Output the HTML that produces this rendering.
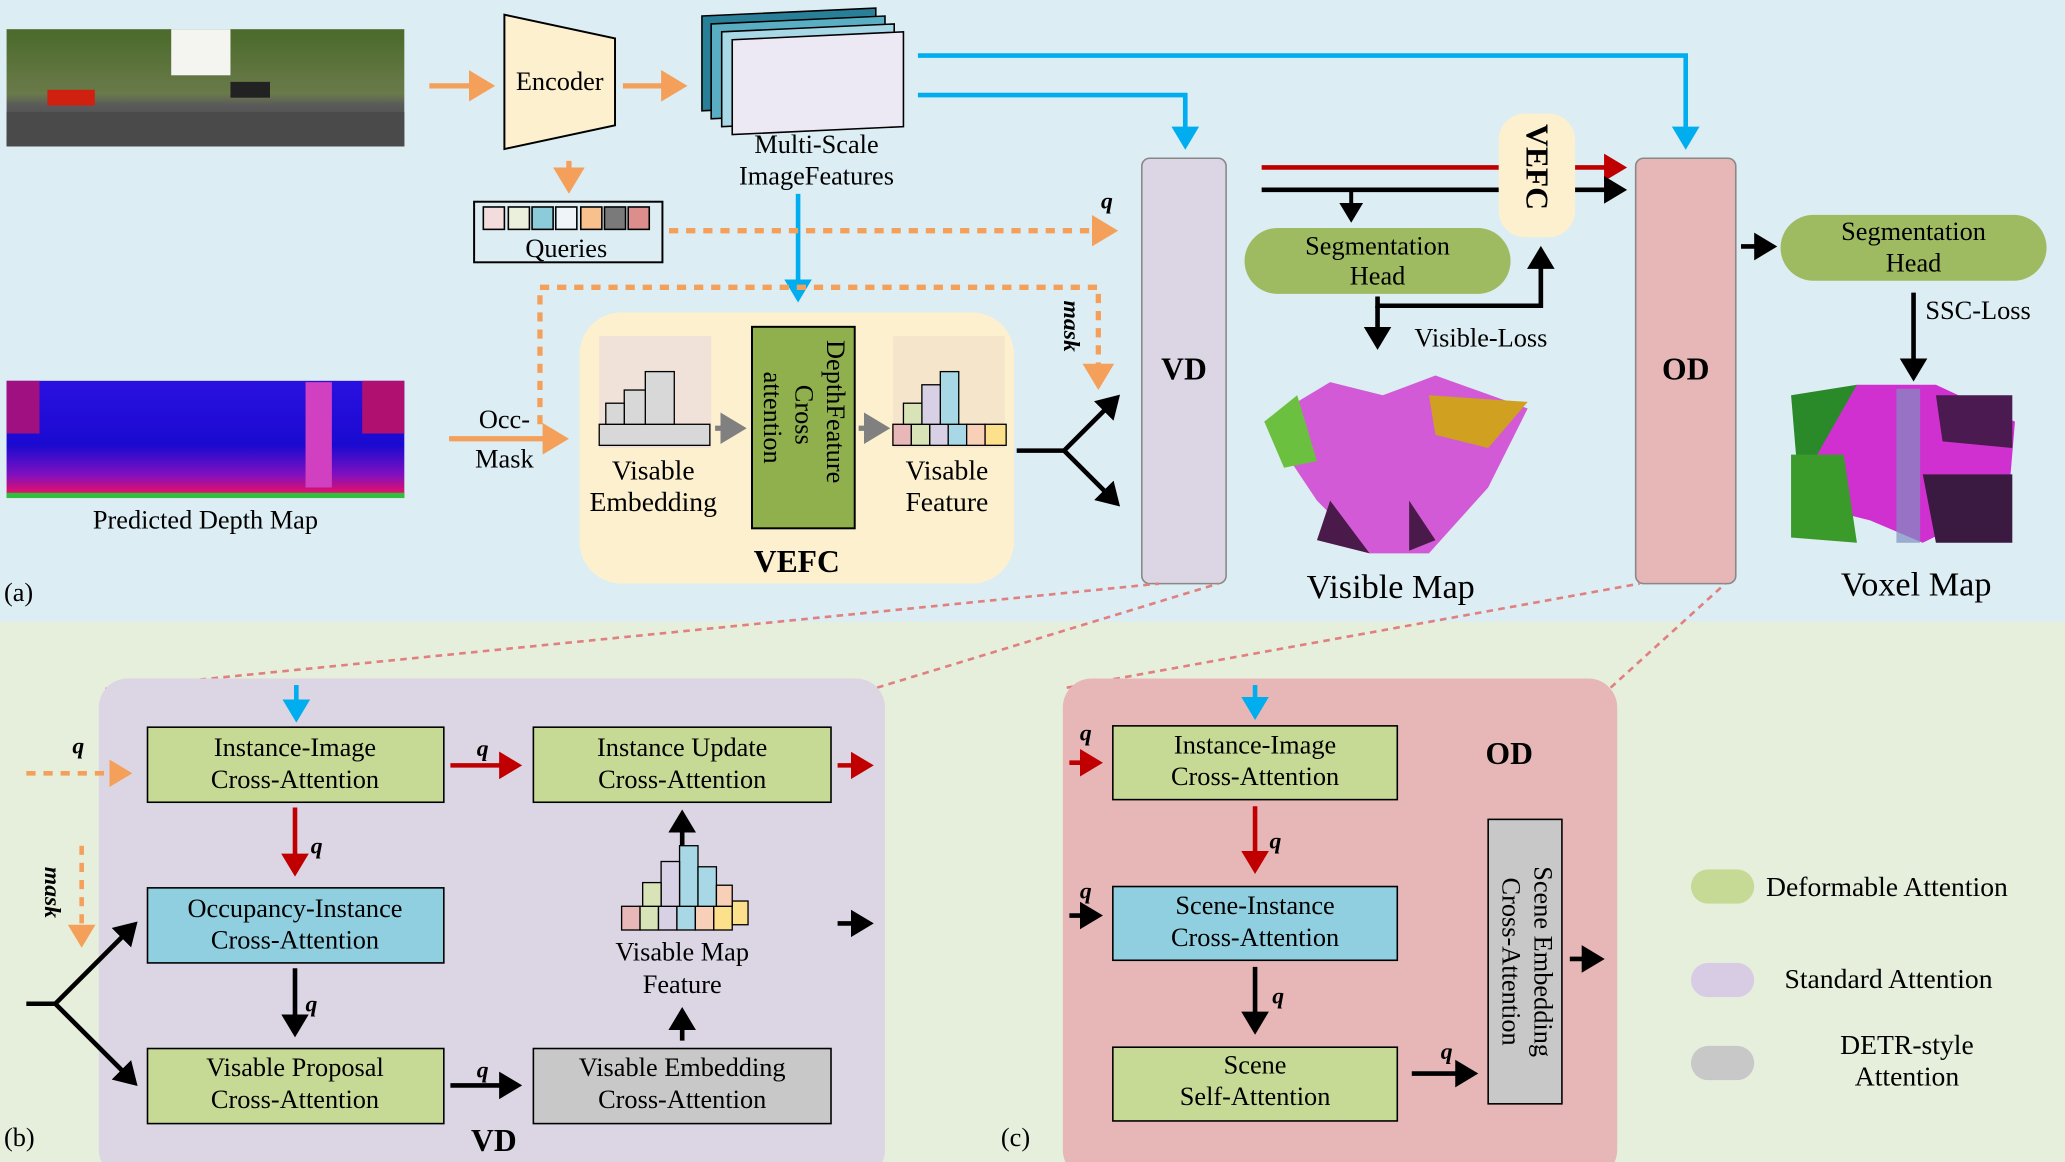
<!DOCTYPE html>
<html><head><meta charset="utf-8"><style>
html,body{margin:0;padding:0;width:2065px;height:1162px;overflow:hidden;background:#dcedf3}
svg{display:block;font-family:"Liberation Serif","DejaVu Serif","Noto Serif CJK SC",serif}
svg text{font-family:"Liberation Serif","DejaVu Serif","Noto Serif CJK SC",serif !important;fill:#000}
</style></head><body>
<svg width="2065" height="1162" viewBox="0 0 1568 882" xmlns="http://www.w3.org/2000/svg" font-family="Liberation Serif, DejaVu Serif, serif">
<defs>
<marker id="ao" markerWidth="6" markerHeight="6" refX="4" refY="3" orient="auto" markerUnits="strokeWidth"><path d="M0,0 L5,3 L0,6 z" fill="#f4a05a"/></marker>
<marker id="ab" markerWidth="6" markerHeight="6" refX="4" refY="3" orient="auto" markerUnits="strokeWidth"><path d="M0,0 L5,3 L0,6 z" fill="#00aeef"/></marker>
<marker id="ak" markerWidth="6" markerHeight="6" refX="4" refY="3" orient="auto" markerUnits="strokeWidth"><path d="M0,0 L5,3 L0,6 z" fill="#000"/></marker>
<marker id="ar" markerWidth="6" markerHeight="6" refX="4" refY="3" orient="auto" markerUnits="strokeWidth"><path d="M0,0 L5,3 L0,6 z" fill="#c00000"/></marker>
<marker id="ag" markerWidth="6" markerHeight="6" refX="4" refY="3" orient="auto" markerUnits="strokeWidth"><path d="M0,0 L5,3 L0,6 z" fill="#808080"/></marker>
<linearGradient id="dep" x1="0" y1="0" x2="0" y2="1"><stop offset="0" stop-color="#2a10e0"/><stop offset="0.55" stop-color="#1a0ad0"/><stop offset="0.8" stop-color="#8010c0"/><stop offset="1" stop-color="#ff1050"/></linearGradient>
<linearGradient id="rgb" x1="0" y1="0" x2="0" y2="1"><stop offset="0" stop-color="#4a6a2a"/><stop offset="0.55" stop-color="#6a7a4a"/><stop offset="0.65" stop-color="#5a5a5a"/><stop offset="1" stop-color="#3a3a3a"/></linearGradient>
</defs>
<rect x="0" y="0" width="1568" height="472" fill="#dcedf3"/>
<rect x="0" y="472" width="1568" height="410" fill="#e6efdc"/>

<!-- photo -->
<rect x="5" y="22" width="302" height="89" fill="url(#rgb)"/>
<rect x="130" y="22" width="45" height="35" fill="#f4f4f0"/>
<rect x="5" y="85" width="302" height="26" fill="#4a4a4a"/>
<rect x="36" y="68" width="36" height="12" fill="#d02010"/>
<rect x="175" y="62" width="30" height="12" fill="#222"/>
<!-- depth -->
<rect x="5" y="289" width="302" height="89" fill="url(#dep)"/>
<rect x="5" y="289" width="25" height="40" fill="#a01080"/>
<rect x="232" y="290" width="20" height="80" fill="#d040c0"/>
<rect x="275" y="289" width="32" height="40" fill="#b01070"/>
<rect x="5" y="374" width="302" height="4" fill="#30c040"/>
<text x="156" y="401" font-size="20" text-anchor="middle">Predicted Depth Map</text>
<text x="3" y="456" font-size="20">(a)</text>

<!-- encoder -->
<path d="M383,11 L467,29 L467,95 L383,113 Z" fill="#fdf0cf" stroke="#000" stroke-width="1.5"/>
<text x="425" y="68" font-size="20" text-anchor="middle">Encoder</text>
<line x1="326" y1="65" x2="372" y2="65" stroke="#f4a05a" stroke-width="4" marker-end="url(#ao)"/>
<line x1="473" y1="65" x2="518" y2="65" stroke="#f4a05a" stroke-width="4" marker-end="url(#ao)"/>
<line x1="432" y1="122" x2="432" y2="143" stroke="#f4a05a" stroke-width="4" marker-end="url(#ao)"/>
<!-- queries -->
<rect x="360" y="153" width="143" height="46" fill="#dcedf3" stroke="#000" stroke-width="1.5"/>
<g stroke="#000" stroke-width="1.2">
<rect x="367" y="157" width="16" height="17" fill="#f2dcdc"/><rect x="386" y="157" width="16" height="17" fill="#eaf0dc"/><rect x="404" y="157" width="16" height="17" fill="#8ccbd9"/><rect x="422" y="157" width="16" height="17" fill="#eef4f8"/><rect x="441" y="157" width="16" height="17" fill="#f7c08c"/><rect x="459" y="157" width="16" height="17" fill="#7a7a7a"/><rect x="477" y="157" width="16" height="17" fill="#dc8e8c"/></g>
<text x="430" y="195" font-size="20" text-anchor="middle">Queries</text>

<!-- feature stack -->
<g stroke="#000" stroke-width="1.2">
<path d="M533,12 L665,6 L665,78 L533,84 Z" fill="#2a7f98"/>
<path d="M540,18 L672,12 L672,84 L540,90 Z" fill="#5aaec4"/>
<path d="M548,24 L679,18 L679,90 L548,96 Z" fill="#a8d8e6"/>
<path d="M556,30 L686,24 L686,96 L556,102 Z" fill="#ece8f4"/>
</g>
<text x="620" y="116" font-size="20" text-anchor="middle">Multi-Scale</text>
<text x="620" y="140" font-size="20" text-anchor="middle">ImageFeatures</text>

<!-- blue lines -->
<polyline points="697,42 1280,42 1280,110" fill="none" stroke="#00aeef" stroke-width="3.5" marker-end="url(#ab)"/>
<polyline points="697,72 900,72 900,110" fill="none" stroke="#00aeef" stroke-width="3.5" marker-end="url(#ab)"/>
<line x1="606" y1="147" x2="606" y2="226" stroke="#00aeef" stroke-width="3.5" marker-end="url(#ab)"/>

<!-- orange dashed -->
<line x1="508" y1="175" x2="845" y2="175" stroke="#f4a05a" stroke-width="4" stroke-dasharray="7,6" marker-end="url(#ao)"/>
<text x="836" y="158" font-size="18" font-style="italic" font-weight="bold">q</text>
<polyline points="410,322 410,218 834,218 834,292" fill="none" stroke="#f4a05a" stroke-width="4" stroke-dasharray="7,6" marker-end="url(#ao)"/>
<text x="0" y="0" font-size="18" font-style="italic" font-weight="bold" transform="translate(808,228) rotate(90)">mask</text>
<line x1="341" y1="333" x2="428" y2="333" stroke="#f4a05a" stroke-width="4" marker-end="url(#ao)"/>
<text x="383" y="325" font-size="20" text-anchor="middle">Occ-</text>
<text x="383" y="355" font-size="20" text-anchor="middle">Mask</text>

<!-- VEFC panel -->
<rect x="440" y="237" width="330" height="206" rx="32" fill="#fdf0cf"/>
<rect x="455" y="255" width="85" height="85" fill="#e8d8e0" opacity="0.6"/>
<rect x="678" y="255" width="85" height="85" fill="#f0e0c8" opacity="0.6"/>
<g stroke="#000" stroke-width="1" fill="#d8d8d8">
<rect x="455" y="322" width="84" height="16"/><rect x="474" y="296" width="36" height="26"/><rect x="490" y="282" width="22" height="40"/><rect x="460" y="306" width="14" height="16"/>
</g>
<g stroke="#000" stroke-width="1">
<rect x="678" y="322" width="14" height="16" fill="#e8b8b8"/><rect x="692" y="322" width="14" height="16" fill="#d8e4b8"/><rect x="706" y="322" width="14" height="16" fill="#d8d0e4"/><rect x="720" y="322" width="14" height="16" fill="#a8d8e6"/><rect x="734" y="322" width="14" height="16" fill="#f8d0b8"/><rect x="748" y="322" width="16" height="16" fill="#fce08c"/>
<rect x="714" y="282" width="14" height="40" fill="#a8d8e6"/><rect x="700" y="292" width="14" height="30" fill="#d8d0e4"/><rect x="686" y="306" width="14" height="16" fill="#d8e4b8"/>
</g>
<rect x="571" y="248" width="78" height="153" fill="#8fb04c" stroke="#000" stroke-width="1.5"/>
<text font-size="20" transform="translate(628,258) rotate(90)">DepthFeature</text>
<text font-size="20" transform="translate(604,292) rotate(90)">Cross</text>
<text font-size="20" transform="translate(580,282) rotate(90)">attention</text>
<line x1="543" y1="325" x2="563" y2="325" stroke="#808080" stroke-width="4" marker-end="url(#ag)"/>
<line x1="652" y1="325" x2="672" y2="325" stroke="#808080" stroke-width="4" marker-end="url(#ag)"/>
<text x="496" y="364" font-size="21" text-anchor="middle">Visable</text>
<text x="496" y="388" font-size="21" text-anchor="middle">Embedding</text>
<text x="719" y="364" font-size="21" text-anchor="middle">Visable</text>
<text x="719" y="388" font-size="21" text-anchor="middle">Feature</text>
<text x="605" y="434" font-size="24" font-weight="bold" text-anchor="middle">VEFC</text>

<!-- fork to VD -->
<polyline points="772,342 808,342 848,302" fill="none" stroke="#000" stroke-width="3.5" marker-end="url(#ak)"/>
<polyline points="808,342 848,382" fill="none" stroke="#000" stroke-width="3.5" marker-end="url(#ak)"/>

<!-- VD -->
<rect x="867" y="120" width="64" height="323" rx="6" fill="#dcd6e4" stroke="#888" stroke-width="1.2"/>
<text x="899" y="288" font-size="24" font-weight="bold" text-anchor="middle">VD</text>

<!-- red/black lines -->
<line x1="958" y1="127" x2="1232" y2="127" stroke="#c00000" stroke-width="3.5" marker-end="url(#ar)"/>
<line x1="958" y1="144" x2="1232" y2="144" stroke="#000" stroke-width="3.5" marker-end="url(#ak)"/>
<line x1="1026" y1="144" x2="1026" y2="166" stroke="#000" stroke-width="3" marker-end="url(#ak)"/>
<rect x="1138" y="86" width="58" height="94" rx="20" fill="#fdf0cf"/>
<text font-size="24" font-weight="bold" transform="translate(1159,94) rotate(90)">VEFC</text>
<rect x="945" y="173" width="202" height="50" rx="25" fill="#9fbb62"/>
<text x="1046" y="193" font-size="20" text-anchor="middle">Segmentation</text>
<text x="1046" y="216" font-size="20" text-anchor="middle">Head</text>
<polyline points="1046,225 1046,232 1170,232 1170,190" fill="none" stroke="#000" stroke-width="3.5" marker-end="url(#ak)"/>
<line x1="1046" y1="232" x2="1046" y2="262" stroke="#000" stroke-width="3.5" marker-end="url(#ak)"/>
<text x="1074" y="263" font-size="20">Visible-Loss</text>
<!-- visible map -->
<path d="M960,320 L1010,290 L1050,300 L1090,285 L1160,310 L1130,370 L1085,420 L1040,420 L1000,380 Z" fill="#d040d0" opacity="0.85"/>
<path d="M960,320 L985,300 L1000,350 L975,355 Z" fill="#6cc040"/>
<path d="M1085,300 L1160,305 L1130,340 L1090,330 Z" fill="#d0a020"/>
<path d="M1010,380 L1040,420 L1000,410 Z" fill="#4a1a4a"/>
<path d="M1070,380 L1090,410 L1070,418 Z" fill="#4a1a4a"/>
<text x="1056" y="454" font-size="26" text-anchor="middle">Visible Map</text>

<!-- OD -->
<rect x="1242" y="120" width="76" height="323" rx="6" fill="#e6b7b6" stroke="#888" stroke-width="1.2"/>
<text x="1280" y="288" font-size="24" font-weight="bold" text-anchor="middle">OD</text>
<line x1="1322" y1="187" x2="1346" y2="187" stroke="#000" stroke-width="3.5" marker-end="url(#ak)"/>
<rect x="1352" y="163" width="202" height="50" rx="25" fill="#9fbb62"/>
<text x="1453" y="182" font-size="20" text-anchor="middle">Segmentation</text>
<text x="1453" y="206" font-size="20" text-anchor="middle">Head</text>
<line x1="1453" y1="222" x2="1453" y2="286" stroke="#000" stroke-width="3.5" marker-end="url(#ak)"/>
<text x="1462" y="242" font-size="20">SSC-Loss</text>
<!-- voxel map -->
<path d="M1360,300 L1410,292 L1420,340 L1365,360 Z" fill="#2a8a2a"/>
<path d="M1410,292 L1470,292 L1530,320 L1525,380 L1460,412 L1420,395 L1360,380 Z" fill="#d030d0"/>
<path d="M1360,345 L1400,345 L1410,412 L1360,408 Z" fill="#3a9a2a"/>
<path d="M1460,360 L1528,360 L1528,412 L1470,412 Z" fill="#3a1a40"/>
<path d="M1470,300 L1528,300 L1528,340 L1475,335 Z" fill="#4a1a50"/>
<rect x="1440" y="295" width="18" height="117" fill="#8090c0" opacity="0.7"/>
<text x="1455" y="452" font-size="26" text-anchor="middle">Voxel Map</text>

<!-- pink dashed connectors -->
<line x1="80" y1="523" x2="880" y2="443" stroke="#e08080" stroke-width="2" stroke-dasharray="5,4"/>
<line x1="666" y1="522" x2="925" y2="443" stroke="#e08080" stroke-width="2" stroke-dasharray="5,4"/>
<line x1="810" y1="522" x2="1245" y2="443" stroke="#e08080" stroke-width="2" stroke-dasharray="5,4"/>
<line x1="1223" y1="522" x2="1310" y2="443" stroke="#e08080" stroke-width="2" stroke-dasharray="5,4"/>

<!-- (b) VD panel -->
<rect x="75" y="515" width="597" height="380" rx="22" fill="#dcd6e4"/>
<text x="3" y="870" font-size="20">(b)</text>
<text x="375" y="874" font-size="24" font-weight="bold" text-anchor="middle">VD</text>
<line x1="225" y1="520" x2="225" y2="545" stroke="#00aeef" stroke-width="3.5" marker-end="url(#ab)"/>
<g stroke="#000" stroke-width="1.2">
<rect x="112" y="552" width="225" height="57" fill="#c6da96"/>
<rect x="405" y="552" width="226" height="57" fill="#c6da96"/>
<rect x="112" y="674" width="225" height="57" fill="#8fcfe0"/>
<rect x="112" y="796" width="225" height="57" fill="#c6da96"/>
<rect x="405" y="796" width="226" height="57" fill="#c8c8c8"/>
</g>
<g font-size="20" text-anchor="middle">
<text x="224" y="574">Instance-Image</text><text x="224" y="598">Cross-Attention</text>
<text x="518" y="574">Instance Update</text><text x="518" y="598">Cross-Attention</text>
<text x="224" y="696">Occupancy-Instance</text><text x="224" y="720">Cross-Attention</text>
<text x="224" y="817">Visable Proposal</text><text x="224" y="841">Cross-Attention</text>
<text x="518" y="817">Visable Embedding</text><text x="518" y="841">Cross-Attention</text>
<text x="518" y="729">Visable Map</text><text x="518" y="754">Feature</text>
</g>
<line x1="20" y1="587" x2="97" y2="587" stroke="#f4a05a" stroke-width="3.5" stroke-dasharray="7,6" marker-end="url(#ao)"/>
<text x="55" y="572" font-size="18" font-style="italic" font-weight="bold">q</text>
<line x1="62" y1="642" x2="62" y2="716" stroke="#f4a05a" stroke-width="3.5" stroke-dasharray="7,6" marker-end="url(#ao)"/>
<text font-size="18" font-style="italic" font-weight="bold" transform="translate(34,658) rotate(90)">mask</text>
<polyline points="20,762 42,762 102,702" fill="none" stroke="#000" stroke-width="3.5" marker-end="url(#ak)"/>
<polyline points="42,762 102,822" fill="none" stroke="#000" stroke-width="3.5" marker-end="url(#ak)"/>
<line x1="342" y1="581" x2="393" y2="581" stroke="#c00000" stroke-width="3.5" marker-end="url(#ar)"/>
<text x="362" y="574" font-size="18" font-style="italic" font-weight="bold">q</text>
<line x1="636" y1="581" x2="660" y2="581" stroke="#c00000" stroke-width="3.5" marker-end="url(#ar)"/>
<line x1="224" y1="613" x2="224" y2="662" stroke="#c00000" stroke-width="3.5" marker-end="url(#ar)"/>
<text x="236" y="648" font-size="18" font-style="italic" font-weight="bold">q</text>
<line x1="224" y1="735" x2="224" y2="784" stroke="#000" stroke-width="3.5" marker-end="url(#ak)"/>
<text x="232" y="768" font-size="18" font-style="italic" font-weight="bold">q</text>
<line x1="342" y1="824" x2="393" y2="824" stroke="#000" stroke-width="3.5" marker-end="url(#ak)"/>
<text x="362" y="818" font-size="18" font-style="italic" font-weight="bold">q</text>
<line x1="518" y1="790" x2="518" y2="768" stroke="#000" stroke-width="3.5" marker-end="url(#ak)"/>
<line x1="518" y1="650" x2="518" y2="618" stroke="#000" stroke-width="3.5" marker-end="url(#ak)"/>
<line x1="636" y1="701" x2="660" y2="701" stroke="#000" stroke-width="3.5" marker-end="url(#ak)"/>
<g stroke="#000" stroke-width="1">
<rect x="472" y="688" width="14" height="18" fill="#e8b8b8"/><rect x="486" y="688" width="14" height="18" fill="#d8e4b8"/><rect x="500" y="688" width="14" height="18" fill="#d8d0e4"/><rect x="514" y="688" width="14" height="18" fill="#a8d8e6"/><rect x="528" y="688" width="14" height="18" fill="#f8d0b8"/><rect x="542" y="688" width="14" height="18" fill="#fce08c"/><rect x="556" y="684" width="12" height="18" fill="#fce08c"/>
<rect x="516" y="642" width="14" height="46" fill="#a8d8e6"/><rect x="502" y="654" width="14" height="34" fill="#d8d0e4"/><rect x="488" y="670" width="14" height="18" fill="#d8e4b8"/><rect x="530" y="658" width="14" height="30" fill="#a8d8e6"/><rect x="544" y="672" width="12" height="16" fill="#f8d0b8"/>
</g>

<!-- (c) OD panel -->
<rect x="807" y="515" width="421" height="380" rx="22" fill="#e6b7b6"/>
<text x="760" y="870" font-size="20">(c)</text>
<text x="1146" y="580" font-size="24" font-weight="bold" text-anchor="middle">OD</text>
<line x1="953" y1="520" x2="953" y2="543" stroke="#00aeef" stroke-width="3.5" marker-end="url(#ab)"/>
<g stroke="#000" stroke-width="1.2">
<rect x="845" y="551" width="216" height="56" fill="#c6da96"/>
<rect x="845" y="673" width="216" height="56" fill="#8fcfe0"/>
<rect x="845" y="795" width="216" height="56" fill="#c6da96"/>
<rect x="1130" y="622" width="56" height="216" fill="#c8c8c8"/>
</g>
<g font-size="20" text-anchor="middle">
<text x="953" y="572">Instance-Image</text><text x="953" y="596">Cross-Attention</text>
<text x="953" y="694">Scene-Instance</text><text x="953" y="718">Cross-Attention</text>
<text x="953" y="815">Scene</text><text x="953" y="839">Self-Attention</text>
</g>
<text font-size="20" text-anchor="middle" transform="translate(1165,730) rotate(90)">Scene Embedding</text>
<text font-size="20" text-anchor="middle" transform="translate(1141,730) rotate(90)">Cross-Attention</text>
<line x1="812" y1="579" x2="834" y2="579" stroke="#c00000" stroke-width="3.5" marker-end="url(#ar)"/>
<text x="820" y="562" font-size="18" font-style="italic" font-weight="bold">q</text>
<line x1="953" y1="612" x2="953" y2="660" stroke="#c00000" stroke-width="3.5" marker-end="url(#ar)"/>
<text x="964" y="644" font-size="18" font-style="italic" font-weight="bold">q</text>
<line x1="812" y1="695" x2="834" y2="695" stroke="#000" stroke-width="3.5" marker-end="url(#ak)"/>
<text x="820" y="682" font-size="18" font-style="italic" font-weight="bold">q</text>
<line x1="953" y1="734" x2="953" y2="782" stroke="#000" stroke-width="3.5" marker-end="url(#ak)"/>
<text x="966" y="762" font-size="18" font-style="italic" font-weight="bold">q</text>
<line x1="1072" y1="815" x2="1119" y2="815" stroke="#000" stroke-width="3.5" marker-end="url(#ak)"/>
<text x="1094" y="804" font-size="18" font-style="italic" font-weight="bold">q</text>
<line x1="1192" y1="728" x2="1215" y2="728" stroke="#000" stroke-width="3.5" marker-end="url(#ak)"/>

<!-- legend -->
<rect x="1284" y="660" width="48" height="26" rx="13" fill="#c6da96"/>
<text x="1341" y="680" font-size="21">Deformable Attention</text>
<rect x="1284" y="731" width="48" height="26" rx="13" fill="#d8cce4"/>
<text x="1355" y="750" font-size="21">Standard Attention</text>
<rect x="1284" y="794" width="48" height="26" rx="13" fill="#c8c8c8"/>
<text x="1448" y="800" font-size="21" text-anchor="middle">DETR-style</text>
<text x="1448" y="824" font-size="21" text-anchor="middle">Attention</text>
</svg>
</body></html>
